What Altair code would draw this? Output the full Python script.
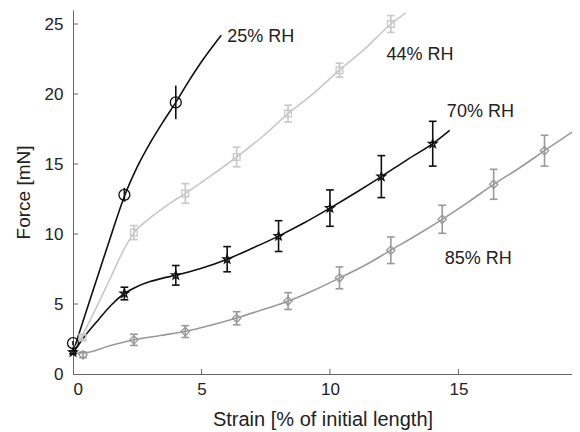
import altair as alt
import pandas as pd

SERIES = ["25% RH", "44% RH", "70% RH", "85% RH"]
COLORS = ["#111111", "#c8c8c8", "#111111", "#999999"]

# ---- measured points (markers + error bars) ----
rh25_x = [0, 2, 4]
rh25_y = [2.2, 12.8, 19.4]
rh25_e = [0.15, 0.5, 1.2]

rh44_x = [0.37, 2.37, 4.37, 6.37, 8.37, 10.37, 12.37]
rh44_y = [2.6, 10.1, 12.9, 15.5, 18.6, 21.7, 25.0]
rh44_e = [0.2, 0.5, 0.7, 0.7, 0.6, 0.5, 0.6]

rh70_x = [0, 2, 4, 6, 8, 10, 12, 14]
rh70_y = [1.55, 5.75, 7.05, 8.2, 9.85, 11.85, 14.1, 16.45]
rh70_e = [0.1, 0.45, 0.7, 0.9, 1.1, 1.3, 1.5, 1.6]

rh85_x = [0.39, 2.37, 4.37, 6.37, 8.37, 10.37, 12.37, 14.37, 16.37, 18.35]
rh85_y = [1.37, 2.44, 3.03, 3.98, 5.21, 6.87, 8.84, 11.05, 13.55, 15.95]
rh85_e = [0.2, 0.4, 0.42, 0.47, 0.6, 0.78, 0.95, 1.0, 1.07, 1.1]

# ---- fitted curves ----
c25_x = [0, 0.5, 1, 1.5, 2, 2.5, 3, 3.5, 4, 4.5, 5, 5.77]
c25_y = [1.55, 4.4, 7.2, 10.0, 12.7, 14.8, 16.5, 18.0, 19.4, 20.9, 22.3, 24.2]

c44_x = [0, 0.46, 1.0, 1.43, 1.9, 2.37, 2.9, 3.4, 3.9, 4.37, 5.4, 6.37, 7.4, 8.37, 9.4, 10.37, 11.4, 12.37, 12.95]
c44_y = [1.6, 3.1, 5.1, 6.75, 8.6, 10.1, 11.0, 11.7, 12.35, 12.9, 14.2, 15.5, 17.0, 18.6, 20.1, 21.7, 23.3, 25.0, 25.8]

c70_x = [0, 0.5, 1, 1.5, 2, 2.5, 3, 3.5, 4, 5, 6, 7, 8, 9, 10, 11, 12, 13, 14, 14.66]
c70_y = [1.5, 2.8, 3.9, 4.95, 5.75, 6.25, 6.6, 6.85, 7.05, 7.55, 8.2, 9.0, 9.85, 10.8, 11.85, 12.95, 14.1, 15.3, 16.45, 17.4]

c85_x = [0, 0.39, 1.4, 2.37, 3.4, 4.37, 5.4, 6.37, 7.4, 8.37, 9.4, 10.37, 11.4, 12.37, 13.4, 14.37, 15.4, 16.37, 17.4, 18.35, 19.72]
c85_y = [1.5, 1.5, 2.0, 2.45, 2.75, 3.05, 3.5, 4.0, 4.6, 5.2, 6.0, 6.85, 7.8, 8.85, 9.95, 11.05, 12.3, 13.55, 14.75, 15.95, 17.65]

# ---- annotations (data coordinates) ----
label_text = ["25% RH", "44% RH", "70% RH", "85% RH"]
label_x = [6.0, 12.2, 14.55, 14.47]
label_y = [24.1, 22.8, 18.7, 8.2]

x_ticks = [0, 5, 10, 15]
y_ticks = [0, 5, 10, 15, 20, 25]

X_DOMAIN = [0, 19.42]
Y_DOMAIN = [0, 26]

STAR = ("M0,-1L0.235,-0.324L0.951,-0.309L0.38,0.124L0.588,0.809L0,0.4"
        "L-0.588,0.809L-0.38,0.124L-0.951,-0.309L-0.235,-0.324Z")
SHAPES = ["circle", "square", STAR, "diamond"]
SIZES = [120, 45, 80, 70]

pts = [(rh25_x, rh25_y, rh25_e), (rh44_x, rh44_y, rh44_e),
       (rh70_x, rh70_y, rh70_e), (rh85_x, rh85_y, rh85_e)]
curves = [(c25_x, c25_y), (c44_x, c44_y), (c70_x, c70_y), (c85_x, c85_y)]

rows = []
for s, (xs_, ys_, es_) in zip(SERIES, pts):
    for a, b, c in zip(xs_, ys_, es_):
        rows.append({"series": s, "x": a, "y": b, "e": c})
mdf = pd.DataFrame(rows)

crows = []
for s, (xs_, ys_) in zip(SERIES, curves):
    for a, b in zip(xs_, ys_):
        crows.append({"series": s, "x": a, "y": b})
cdf = pd.DataFrame(crows)

ldf = pd.DataFrame({"text": label_text, "x": label_x, "y": label_y})

xs = alt.Scale(domain=X_DOMAIN, nice=False, zero=False)
ys = alt.Scale(domain=Y_DOMAIN, nice=False, zero=False)
col = alt.Color("series:N", scale=alt.Scale(domain=SERIES, range=COLORS), legend=None)

X = alt.X("x:Q", scale=xs, axis=alt.Axis(values=x_ticks, title="Strain [% of initial length]",
                                          grid=False, tickSize=0, labelPadding=7, titlePadding=12,
                                          titleFontSize=20, format="d"))
Y = alt.Y("y:Q", scale=ys, axis=alt.Axis(values=y_ticks, title="Force [mN]", grid=False,
                                          tickSize=0, labelPadding=10, titlePadding=11,
                                          titleFontSize=19, format="d"))

lines = alt.Chart(cdf).mark_line(clip=True, strokeWidth=1.6, interpolate="monotone").encode(
    x=X, y=Y, color=col, detail="series:N")

base = alt.Chart(mdf).transform_calculate(lo="datum.y - datum.e", hi="datum.y + datum.e")
bars = base.mark_rule(strokeWidth=1.6).encode(
    x=alt.X("x:Q", scale=xs), y=alt.Y("lo:Q", scale=ys), y2="hi:Q", color=col)
caps_lo = base.transform_filter("datum.series != '25% RH'").mark_point(
    shape="stroke", size=60, strokeWidth=1.6, filled=False, opacity=1).encode(
    x=alt.X("x:Q", scale=xs), y=alt.Y("lo:Q", scale=ys), color=col)
caps_hi = base.transform_filter("datum.series != '25% RH'").mark_point(
    shape="stroke", size=60, strokeWidth=1.6, filled=False, opacity=1).encode(
    x=alt.X("x:Q", scale=xs), y=alt.Y("hi:Q", scale=ys), color=col)

markers = []
for s, shp, sz, c in zip(SERIES, SHAPES, SIZES, COLORS):
    markers.append(
        alt.Chart(mdf).transform_filter(f"datum.series == '{s}'").mark_point(
            shape=shp, size=sz, filled=False, strokeWidth=1.3, color=c, opacity=1).encode(
            x=alt.X("x:Q", scale=xs), y=alt.Y("y:Q", scale=ys)))

labels = alt.Chart(ldf).mark_text(align="left", baseline="middle", fontSize=18,
                                  color="#222222", font="Liberation Sans").encode(
    x=alt.X("x:Q", scale=xs), y=alt.Y("y:Q", scale=ys), text="text:N")

xt = alt.Chart(pd.DataFrame({"v": x_ticks[1:]})).mark_rule(color="#666666", strokeWidth=1).encode(
    x=alt.X("v:Q", scale=xs), y=alt.value(364), y2=alt.value(359))
yt = alt.Chart(pd.DataFrame({"v": y_ticks[1:]})).mark_rule(color="#666666", strokeWidth=1).encode(
    y=alt.Y("v:Q", scale=ys), x=alt.value(0), x2=alt.value(5))

chart = alt.layer(lines, bars, caps_lo, caps_hi, *markers, labels, xt, yt).properties(
    width=499, height=364,
    padding={"left": 65, "top": 2, "right": 0, "bottom": 57},
    autosize=alt.AutoSizeParams(type="none"),
).configure_view(stroke=None).configure_axis(
    domainColor="#666666", domainWidth=1, labelColor="#222222", titleColor="#222222",
    labelFont="Liberation Sans", titleFont="Liberation Sans",
    labelFontSize=17, titleFontWeight="normal",
)

chart.save("out.html", embed_options={"renderer": "svg", "actions": False})
